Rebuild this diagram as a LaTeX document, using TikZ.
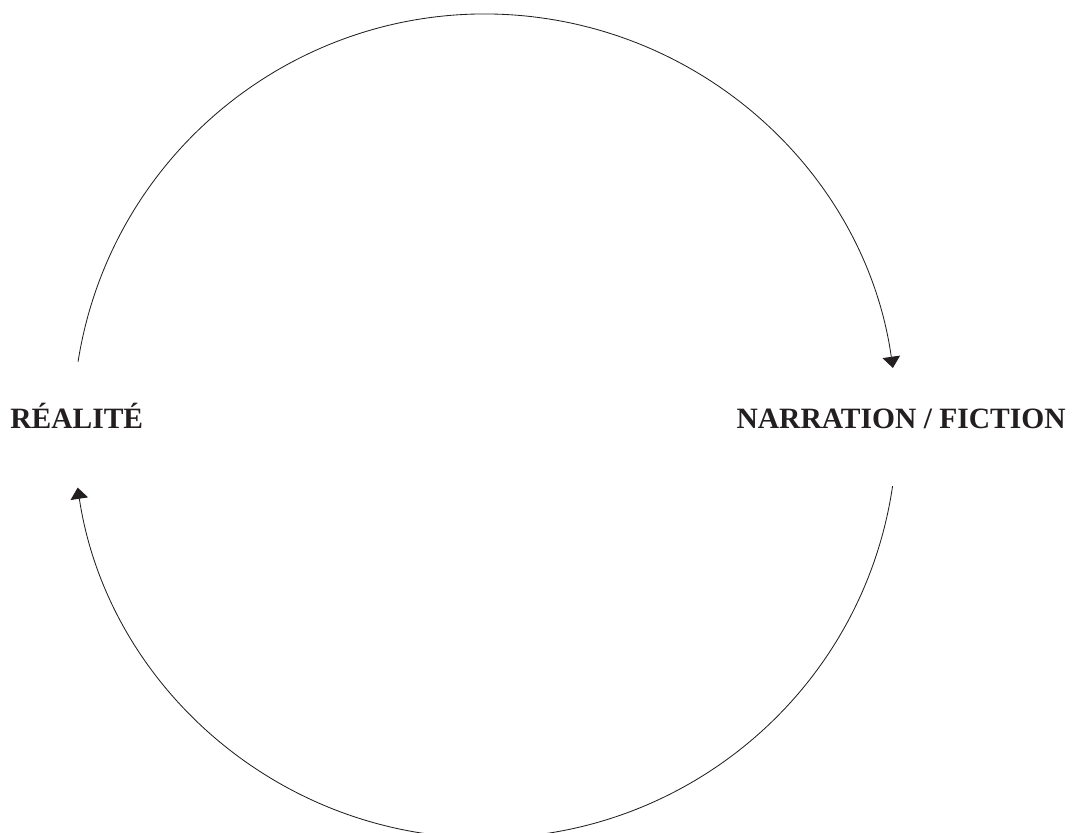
\documentclass[tikz,border=0pt]{standalone}
\usepackage{fontspec}
\setmainfont{Liberation Serif}
\usetikzlibrary{positioning,calc,arrows.meta}
\definecolor{ink}{HTML}{231F20}
\tikzset{
  pole/.style ={font=\fontsize{21}{24}\selectfont\bfseries, text=ink, inner sep=0pt},
  flow/.style ={-{Triangle[length=2.8mm, width=4.4mm]}, draw=ink, line width=0.6pt},
}
\begin{document}
\begin{tikzpicture}
    \useasboundingbox (0,0) rectangle (26.9,-20.8);
    % cycle centre
    \coordinate (C) at (12.125,-10.65);
    % poles
    \node[pole, anchor=base west] (R) at (0.25,-10.7)  {RÉALITÉ};
    \node[pole, anchor=base east] (N) at (26.65,-10.7) {NARRATION / FICTION};
    % arc ends
    \coordinate (Rup) at ($(C)+(171:10.3)$);
    \coordinate (Nup) at ($(C)+(8.1:10.3)$);
    \coordinate (Ndn) at ($(C)+(-8.4:10.3)$);
    % flows
    \draw[flow] (Rup) arc[start angle=171, end angle=8.1, radius=10.3];
    \draw[flow] (Ndn) arc[start angle=-8.4, end angle=-171.4, radius=10.3];
  \end{tikzpicture}
\end{document}
